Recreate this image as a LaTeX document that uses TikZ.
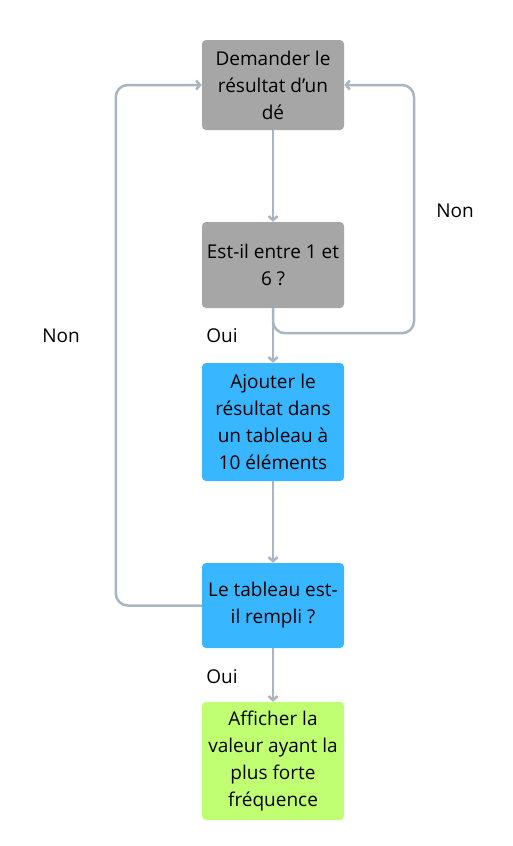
\documentclass[tikz,border=0pt]{standalone}
\usepackage{fontspec}
\setmainfont{Open Sans}
\usetikzlibrary{arrows.meta}
\definecolor{boxgray}{HTML}{A6A6A6}
\definecolor{boxblue}{HTML}{38B6FF}
\definecolor{boxgreen}{HTML}{C1FF72}
\definecolor{linkcol}{HTML}{A9B6C1}

\begin{document}
\begin{tikzpicture}[x=1pt, y=-1pt, >={Straight Barb[length=4pt,width=9pt]},
    box/.style={rounded corners=4pt, minimum width=142pt, inner sep=0pt, align=center,
        font=\fontsize{19}{27}\selectfont},
    lbl/.style={font=\fontsize{19}{22}\selectfont},
    link/.style={draw=linkcol, line width=2.5pt, ->, rounded corners=12pt}]
    \useasboundingbox (0,0) rectangle (513,846);

    % boîtes
    \node[box, fill=boxgray, minimum height=90pt] (ask) at (273,85) {Demander le\\résultat d’un\\dé};
    \node[box, fill=boxgray, minimum height=86pt] (check) at (273,265) {Est-il entre 1 et\\6 ?};
    \node[box, fill=boxblue, minimum height=118pt] (add) at (273,422) {Ajouter le\\résultat dans\\un tableau à\\10 éléments};
    \node[box, fill=boxblue, minimum height=85pt] (full) at (273,605.5) {Le tableau est-\\il rempli ?};
    \node[box, fill=boxgreen, minimum height=118pt] (show) at (273,761) {Afficher la\\valeur ayant la\\plus forte\\fréquence};

    % liens principaux
    \draw[link] (ask) -- (check);
    \draw[link] (check) -- (add);
    \draw[link] (add) -- (full);
    \draw[link] (full) -- (show);

    % boucles
    \draw[link] (check.south) -- ++(0,25) -- ++(141,0) |- (ask.east);
    \draw[link] (full.west) -- ++(-86,0) |- (ask.west);

    % étiquettes
    \node[lbl] (nonright) at (455,211) {Non};
    \node[lbl] (nonleft) at (61,336) {Non};
    \node[lbl] (ouitop) at (222,336) {Oui};
    \node[lbl] (ouibottom) at (222,677) {Oui};
\end{tikzpicture}
\end{document}
